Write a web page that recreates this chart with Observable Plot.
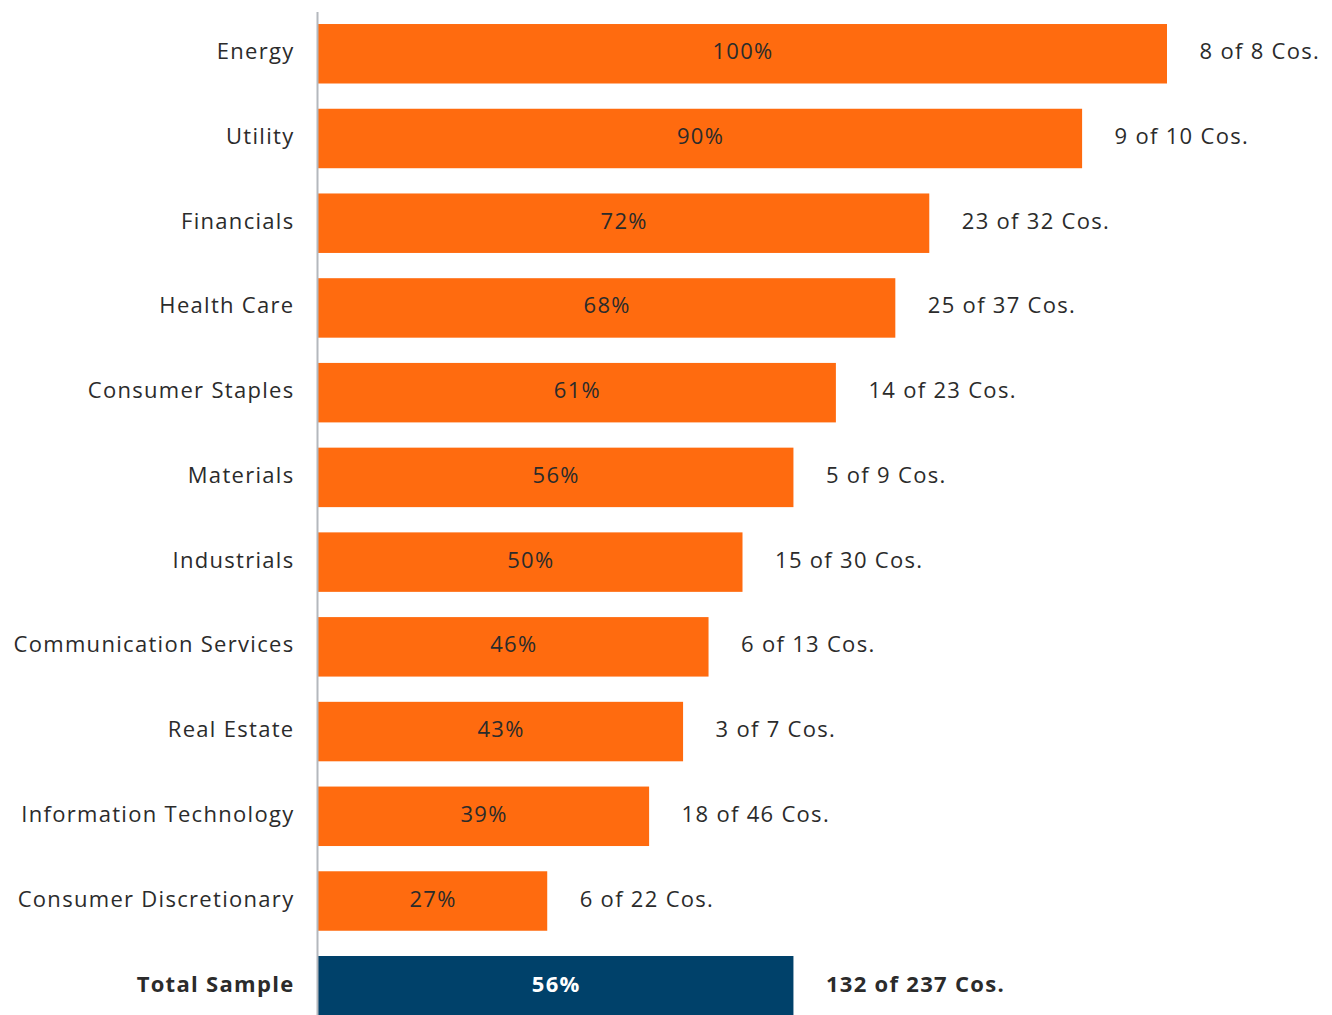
<!DOCTYPE html>
<html>
<head>
<meta charset="utf-8">
<script src="https://cdn.jsdelivr.net/npm/d3@7"></script>
<script src="https://cdn.jsdelivr.net/npm/@observablehq/plot@0.6"></script>
<style>
  html, body { margin: 0; padding: 0; background: #fff; overflow: hidden; }
  #chart svg { display: block; }
  #chart svg text { letter-spacing: 1.3px; }
</style>
</head>
<body>
<div id="chart"></div>
<script>
const sectors = ["Energy","Utility","Financials","Health Care","Consumer Staples","Materials","Industrials","Communication Services","Real Estate","Information Technology","Consumer Discretionary","Total Sample"];
const percents = [100, 90, 72, 68, 61, 56, 50, 46, 43, 39, 27, 56];
const counts = [8, 9, 23, 25, 14, 5, 15, 6, 3, 18, 6, 132];
const totals = [8, 10, 32, 37, 23, 9, 30, 13, 7, 46, 22, 237];

const data = sectors.map((s, i) => ({
  sector: s,
  pct: percents[i],
  label: `${counts[i]} of ${totals[i]} Cos.`,
  total: s === "Total Sample"
}));
const regular = data.filter(d => !d.total);
const total = data.filter(d => d.total);

const ORANGE = "#ff6b0f";
const NAVY = "#00416a";
const TEXT = "#2b2b2b";
const FONT = "'Open Sans', sans-serif";

const chart = Plot.plot({
  width: 1332,
  height: 1015,
  marginLeft: 318,
  marginRight: 165,
  marginTop: 12,
  marginBottom: 0,
  style: { fontFamily: FONT, fontSize: "22px", color: TEXT, background: "#fff" },
  x: { domain: [0, 100], axis: null },
  y: { domain: sectors, range: [11.4, 1028.1], round: false, paddingInner: 0.298, paddingOuter: 0.149, axis: null },
  marks: [
    Plot.barX(data, { y: "sector", x: "pct", fill: d => d.total ? NAVY : ORANGE }),
    Plot.ruleX([0], { stroke: "#b4b8bd", strokeWidth: 2, dx: -1 }),
    Plot.text(regular, { y: "sector", x: 0, text: "sector", textAnchor: "end", dx: -24, dy: -2, fill: TEXT, fontSize: 22 }),
    Plot.text(total, { y: "sector", x: 0, text: "sector", textAnchor: "end", dx: -24, dy: -1, fill: TEXT, fontSize: 22, fontWeight: "bold" }),
    Plot.text(regular, { y: "sector", x: d => d.pct / 2, text: d => d.pct + "%", dy: -2, fill: TEXT, fontSize: 22 }),
    Plot.text(total, { y: "sector", x: d => d.pct / 2, text: d => d.pct + "%", dy: -1, fill: "#fff", fontSize: 22, fontWeight: "bold" }),
    Plot.text(regular, { y: "sector", x: "pct", text: "label", textAnchor: "start", dx: 32, dy: -2, fill: TEXT, fontSize: 22 }),
    Plot.text(total, { y: "sector", x: "pct", text: "label", textAnchor: "start", dx: 32, dy: -1, fill: TEXT, fontSize: 22, fontWeight: "bold" })
  ]
});
document.getElementById("chart").appendChild(chart);
</script>
</body>
</html>
